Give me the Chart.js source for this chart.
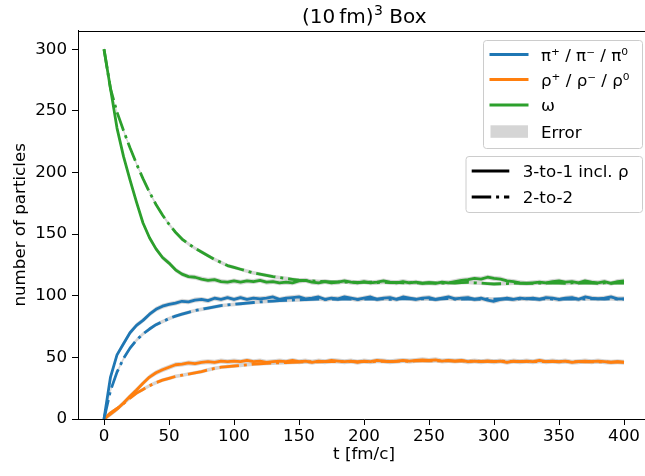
<!DOCTYPE html>
<html>
<head>
<meta charset="utf-8">
<script src="https://cdn.jsdelivr.net/npm/chart.js@4.4.1/dist/chart.umd.min.js"></script>
<style>
  html, body { margin: 0; padding: 0; background: #fff; overflow: hidden; }
  #wrap { width: 660px; height: 476px; }
</style>
</head>
<body>
<div id="wrap"><canvas id="boxChart" width="660" height="476"></canvas></div>
<script>
// time axis [fm/c]
const times = [0,5,10,15,20,25,30,35,40,45,50,55,60,65,70,75,80,85,90,95,
  100,105,110,115,120,125,130,135,140,145,150,155,160,165,170,175,180,185,190,195,
  200,205,210,215,220,225,230,235,240,245,250,255,260,265,270,275,280,285,290,295,
  300,305,310,315,320,325,330,335,340,345,350,355,360,365,370,375,380,385,390,395,400];

// pions, 3-to-1 incl. rho (solid) and 2-to-2 (dash-dot)
const piSolid = [0,34,52,61,70,76,80,85,89,91.5,93,94,95.5,95,96.5,97,96,98,97,98.5,
  97,98.5,97,98,97.5,98,99,97,98,98.5,99,97.5,98,99,97,98,97.5,99,98,97,
  98,99,97,98,98.5,97,99,98,97,98,98.5,97,98,99,97.5,98,98.5,97,98,96.5,
  95.5,97,98,97,98,97.5,98,97,98.5,98,97,98,98.5,97,99,98,97.5,98,99,97.5,97.5];
const piDash = [0,23,38,49,57.5,64,69,73,76.5,79,81.5,83.5,85,86.5,88,89,90,91,92,92.5,
  93,93.5,94,94.5,95,95.3,95.6,96,96.2,96.5,96.7,96.8,97,97.2,97,97.3,97.1,97.4,97.2,97,
  97.3,97.5,97.2,97.4,97.1,97.3,97.6,97.4,97.2,97.5,97.3,97.1,97.4,97.6,97.3,97.2,97.5,97.3,97.1,97.4,
  97.2,97.5,97.3,97.1,97.4,97.6,97.3,97.2,97.5,97.3,97.1,97.4,97.2,97.5,97.3,97.6,97.4,97.2,97.5,97.3,97.2];

// rhos
const rhoSolid = [0,4,8,13,18.5,23.5,29,34,37.5,40,42,44,44.5,45.5,45,46,46.5,46,47,46.5,
  47,46.5,47.5,46.5,47,46,46.5,47,46.5,47.5,46.5,47,46,47,46.5,47.5,47,46.5,47,46,
  47,46.5,47.5,47,46.5,47,47.5,47,47.5,48,47.5,48,47,47.5,47,47.5,46.5,47,46.5,47,
  46.5,47,46,47,46.5,47,46.5,47.5,46.5,47,46.5,47,46,46.5,47,46.5,47,46.5,46,46.5,46];
const rhoDash = [0,5,8.5,12.5,17,21,24,27,29.5,31.5,33,34.5,35.5,36.5,37.5,38.5,39.8,41,42,42.5,
  43,43.5,44,44.5,44.8,45.1,45.4,45.6,45.8,46,46.2,46.3,46.5,46.4,46.6,46.5,46.7,46.5,46.8,46.6,
  46.7,46.5,46.8,46.9,46.6,46.8,47,46.8,47.1,47.3,47.1,47.3,47,47.2,46.9,47.1,46.8,47,46.7,46.9,
  46.7,46.9,46.6,46.8,46.6,46.8,46.5,46.7,46.5,46.7,46.4,46.6,46.4,46.6,46.3,46.5,46.3,46.4,46.2,46.4,46.2];

// omegas
const omegaSolid = [300,268,236,213,194,176,159,147,138,131,126.5,121,117.5,115.5,115,113.5,112.5,113,111.5,111,
  112,111,112,111.5,112.5,111,111.5,110.5,111,110.5,112,112.5,111,110.5,111.5,110.5,111,112,111,110.5,
  111.5,110.5,111,112,111,110.5,111.5,110.5,111,110,110.5,110,111,110.5,111.5,112.5,113,114,113.5,115,
  114,113.5,112,111.5,110.5,110,110.5,111,110.5,111.5,112,111,111.5,110.5,112,111,110.5,111.5,110,111.5,112];
const omegaDash = [300,268,249,234,220,207,195,184,174,165.5,158,151.5,146,142,138.5,135.5,132.5,129.5,127,124.5,
  123,121.5,120,118.5,117.5,116.5,115.5,114.7,114,113.3,112.7,112.3,112,111.7,111.5,111.3,111.2,111,111.1,110.9,
  110.8,111,110.7,110.9,110.6,110.8,110.5,110.7,110.5,110.3,110.6,110.4,110.2,110.5,110.3,110.6,110.8,110.5,110.2,109.8,
  109.5,109.7,109.9,110.2,110,110.3,110.1,110.4,110.2,110.5,110.3,110.1,110.4,110.2,110.5,110.3,110.1,110.4,110.2,110.5,110.3];

// half width of the statistical error band
const errSolid = 2;
const errDash = 1.5;

const xTicks = [0, 50, 100, 150, 200, 250, 300, 350, 400];
const yTicks = [0, 50, 100, 150, 200, 250, 300];

const BLUE = "#1f77b4", ORANGE = "#ff7f0e", GREEN = "#2ca02c", BAND = "rgba(200,200,200,0.75)";
const DASHDOT = [19.5, 4.9, 3, 4.9];
const FONT = "'DejaVu Sans', 'Liberation Sans', sans-serif";
const FS = 16.7;

const toXY = (vals) => times.map((t, i) => ({ x: t, y: vals[i] }));

function lineSet(vals, color, dash) {
  return {
    data: toXY(vals), borderColor: color, borderWidth: 2.8, borderDash: dash,
    pointRadius: 0, tension: 0, fill: false, order: 0, borderJoinStyle: "round"
  };
}
function bandSets(vals, err) {
  return [
    { data: toXY(vals.map(v => v + err)), borderWidth: 0, pointRadius: 0,
      backgroundColor: BAND, fill: "+1", order: 10 },
    { data: toXY(vals.map(v => v - err)), borderWidth: 0, pointRadius: 0,
      fill: false, order: 10 }
  ];
}

const decorations = {
  id: "decorations",
  afterDraw(chart) {
    const ctx = chart.ctx, a = chart.chartArea;
    ctx.save();
    // top and right spines
    ctx.strokeStyle = "#000";
    ctx.lineWidth = 1;
    ctx.beginPath();
    ctx.moveTo(a.left, Math.round(a.top) + 0.5);
    ctx.lineTo(a.right, Math.round(a.top) + 0.5);
    ctx.moveTo(Math.round(a.right) + 0.5, a.top);
    ctx.lineTo(Math.round(a.right) + 0.5, a.bottom);
    ctx.stroke();

    ctx.fillStyle = "#000";
    // title: (10 fm)^3 Box
    const cx = (a.left + a.right) / 2;
    const big = "20px " + FONT, small = "14px " + FONT;
    const p1 = "(10\u2009fm)", p2 = "3", p3 = " Box";
    ctx.font = big; const w1 = ctx.measureText(p1).width, w3 = ctx.measureText(p3).width;
    ctx.font = small; const w2 = ctx.measureText(p2).width;
    let x0 = cx - (w1 + w2 + w3) / 2;
    ctx.textAlign = "left"; ctx.textBaseline = "alphabetic";
    ctx.font = big; ctx.fillText(p1, x0, 22.5);
    ctx.font = small; ctx.fillText(p2, x0 + w1 + 0.5, 15);
    ctx.font = big; ctx.fillText(p3, x0 + w1 + w2 + 0.5, 22.5);

    // axis labels
    ctx.font = FS + "px " + FONT;
    ctx.textAlign = "center";
    ctx.fillText("t [fm/c]", cx, 459);
    ctx.save();
    ctx.translate(25, (a.top + a.bottom) / 2);
    ctx.rotate(-Math.PI / 2);
    ctx.fillText("number of particles", 0, 0);
    ctx.restore();

    // legend boxes
    function box(x, y, w, h) {
      const r = 3;
      ctx.beginPath();
      ctx.moveTo(x + r, y); ctx.lineTo(x + w - r, y); ctx.arcTo(x + w, y, x + w, y + r, r);
      ctx.lineTo(x + w, y + h - r); ctx.arcTo(x + w, y + h, x + w - r, y + h, r);
      ctx.lineTo(x + r, y + h); ctx.arcTo(x, y + h, x, y + h - r, r);
      ctx.lineTo(x, y + r); ctx.arcTo(x, y, x + r, y, r);
      ctx.closePath();
      ctx.fillStyle = "rgba(255,255,255,0.8)"; ctx.fill();
      ctx.strokeStyle = "#cccccc"; ctx.lineWidth = 1; ctx.stroke();
    }
    function handle(x1, x2, y, color, dash) {
      ctx.beginPath(); ctx.setLineDash(dash); ctx.strokeStyle = color; ctx.lineWidth = 2.8;
      ctx.lineCap = "butt"; ctx.moveTo(x1, y); ctx.lineTo(x2, y); ctx.stroke(); ctx.setLineDash([]);
    }
    function label(text, x, y) {
      ctx.fillStyle = "#000"; ctx.font = FS + "px " + FONT; ctx.textAlign = "left";
      ctx.textBaseline = "alphabetic"; ctx.fillText(text, x, y + 6.1);
    }
    box(483.5, 40.5, 159, 108);
    const species = [
      ["\u03c0\u207a / \u03c0\u207b / \u03c0\u2070", BLUE, 54.5],
      ["\u03c1\u207a / \u03c1\u207b / \u03c1\u2070", ORANGE, 79.5],
      ["\u03c9", GREEN, 105]
    ];
    species.forEach(([t, c, y]) => { handle(489.5, 528.5, y, c, []); label(t, 541, y); });
    ctx.fillStyle = "#d5d5d5"; ctx.fillRect(490.5, 125.3, 37.5, 12.5);
    label("Error", 541, 131.5);

    box(466, 156.5, 176.5, 56);
    handle(471.7, 509.3, 171, "#000", []);
    label("3-to-1 incl. \u03c1", 522.7, 171);
    handle(471.7, 509.3, 197, "#000", DASHDOT);
    label("2-to-2", 522.7, 197);
    ctx.restore();
  }
};

new Chart(document.getElementById("boxChart"), {
  type: "line",
  data: {
    datasets: [
      lineSet(piSolid, BLUE, []),
      lineSet(rhoSolid, ORANGE, []),
      lineSet(omegaSolid, GREEN, []),
      lineSet(piDash, BLUE, DASHDOT),
      lineSet(rhoDash, ORANGE, DASHDOT),
      lineSet(omegaDash, GREEN, DASHDOT),
      ...bandSets(piSolid, errSolid),
      ...bandSets(rhoSolid, errSolid),
      ...bandSets(omegaSolid, errSolid),
      ...bandSets(piDash, errDash),
      ...bandSets(rhoDash, errDash),
      ...bandSets(omegaDash, errDash)
    ]
  },
  options: {
    responsive: false,
    animation: false,
    layout: { padding: { left: 0, top: 30.7, right: 10, bottom: 0 } },
    plugins: { legend: { display: false }, title: { display: false }, tooltip: { enabled: false } },
    scales: {
      x: {
        type: "linear", min: -20, max: 420,
        afterBuildTicks: (s) => { s.ticks = xTicks.map(v => ({ value: v })); },
        afterFit: (s) => { s.height = 57; },
        ticks: { color: "#000", padding: 2, maxRotation: 0, font: { family: FONT, size: FS } },
        grid: { drawOnChartArea: false, tickLength: 6, tickColor: "#000", tickWidth: 1 },
        border: { color: "#000", width: 1 }
      },
      y: {
        type: "linear", min: 0, max: 315,
        afterBuildTicks: (s) => { s.ticks = yTicks.map(v => ({ value: v })); },
        afterFit: (s) => { s.width = 78; },
        ticks: { color: "#000", padding: 5, font: { family: FONT, size: FS } },
        grid: { drawOnChartArea: false, tickLength: 6, tickColor: "#000", tickWidth: 1 },
        border: { color: "#000", width: 1 }
      }
    }
  },
  plugins: [decorations]
});
</script>
</body>
</html>
